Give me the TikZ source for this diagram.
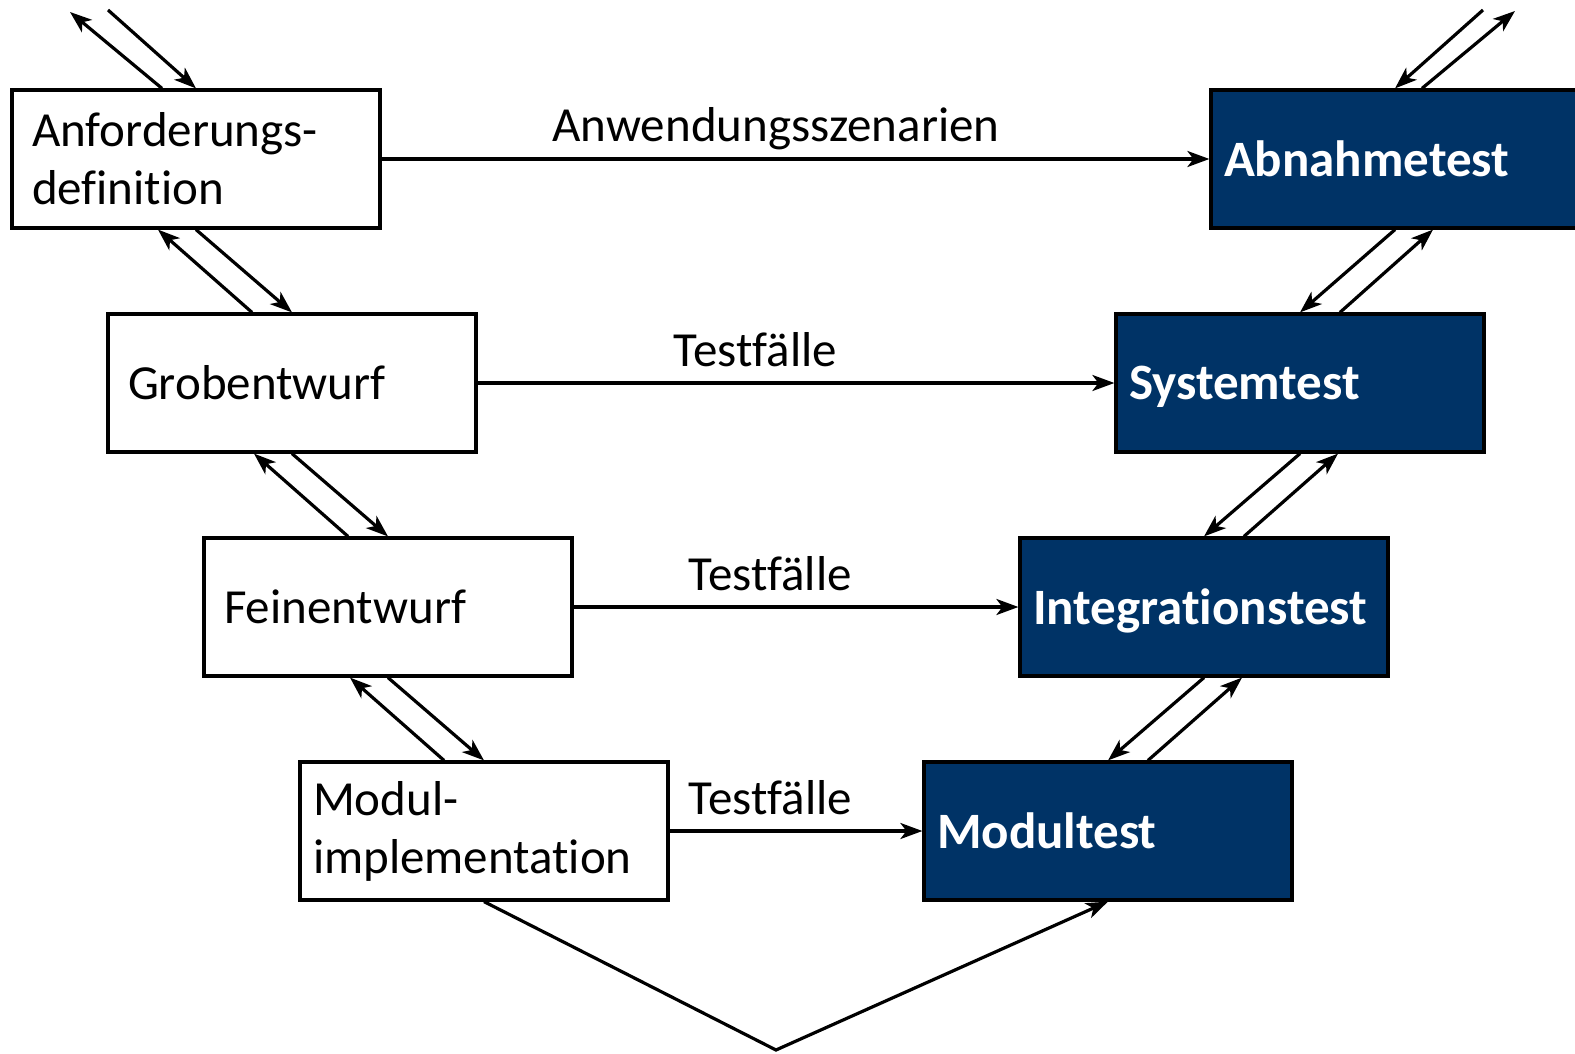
\documentclass[tikz,border=0pt]{standalone}
\usepackage{fontspec}
\setmainfont{Carlito}[Ligatures=NoCommon]
\usetikzlibrary{arrows.meta}
\hyphenpenalty=10000
\exhyphenpenalty=10000
\definecolor{vblue}{RGB}{0,51,102}
\newcommand\flatdepth[1]{\raisebox{0pt}[\height][0pt]{#1}}
\begin{document}
\begin{tikzpicture}[x=1pt,y=-1pt,
  every node/.style={font=\fontsize{49}{58}\selectfont},
  phase/.style={draw=black,line width=3.2pt,fill=white,minimum width=368pt,minimum height=138pt,
    inner xsep=20pt,text width=328pt,align=left},
  testbox/.style={draw=black,line width=3.2pt,fill=vblue,text=white,minimum width=368pt,minimum height=138pt,
    inner xsep=13pt,text width=342pt,align=left,font=\fontsize{51}{58}\selectfont\bfseries},
  conn/.style={line width=3.2pt,-{Stealth[length=22pt,width=16pt,inset=6pt]}},
  lbl/.style={anchor=base,yshift=17pt,inner sep=0pt}
]
\useasboundingbox (0,0) rectangle (1575,1054);
% left branch
\node[phase] (A) at (196,159) {Anforderungs-\\definition};
\node[phase] (G) at (292,383) {Grobentwurf};
\node[phase] (F) at (388,607) {Feinentwurf};
\node[phase,inner xsep=13pt,text width=342pt] (M) at (484,831) {Modul-\\implementation};
% right branch
\node[testbox] (Ab) at (1395,159) {\flatdepth{Abnahmetest}};
\node[testbox] (Sy) at (1300,383) {\flatdepth{Systemtest}};
\node[testbox] (In) at (1204,607) {\flatdepth{Integrationstest}};
\node[testbox] (Mo) at (1108,831) {\flatdepth{Modultest}};
% horizontal arrows
\draw[conn] (A.east) -- node[lbl,pos=0.4765] {Anwendungsszenarien} (Ab.west);
\draw[conn] (G.east) -- node[lbl,pos=0.436] {Testfälle} (Sy.west);
\draw[conn] (F.east) -- node[lbl,pos=0.442] {Testfälle} (In.west);
\draw[conn] (M.east) -- node[lbl,pos=0.398] {Testfälle} (Mo.west);
% free ends at top
\coordinate (tlA) at (108,10);
\coordinate (tlB) at (70,12);
\coordinate (trA) at (1483,10);
\coordinate (trB) at (1515,11);
\coordinate (vb) at (776,1050);
% top-left
\draw[conn] (tlA) -- (A.north);
\draw[conn] ([xshift=-34pt]A.north) -- (tlB);
% left diagonals
\draw[conn] (A.south) -- (G.north);
\draw[conn] ([xshift=-40pt]G.north) -- ([xshift=-38pt]A.south);
\draw[conn] (G.south) -- (F.north);
\draw[conn] ([xshift=-40pt]F.north) -- ([xshift=-38pt]G.south);
\draw[conn] (F.south) -- (M.north);
\draw[conn] ([xshift=-40pt]M.north) -- ([xshift=-38pt]F.south);
% top-right
\draw[conn] (trA) -- (Ab.north);
\draw[conn] ([xshift=27pt]Ab.north) -- (trB);
% right diagonals
\draw[conn] (Ab.south) -- (Sy.north);
\draw[conn] ([xshift=40pt]Sy.north) -- ([xshift=38pt]Ab.south);
\draw[conn] (Sy.south) -- (In.north);
\draw[conn] ([xshift=40pt]In.north) -- ([xshift=38pt]Sy.south);
\draw[conn] (In.south) -- (Mo.north);
\draw[conn] ([xshift=40pt]Mo.north) -- ([xshift=38pt]In.south);
% bottom V
\draw[conn] (M.south) -- (vb) -- (Mo.south);
\end{tikzpicture}
\end{document}
